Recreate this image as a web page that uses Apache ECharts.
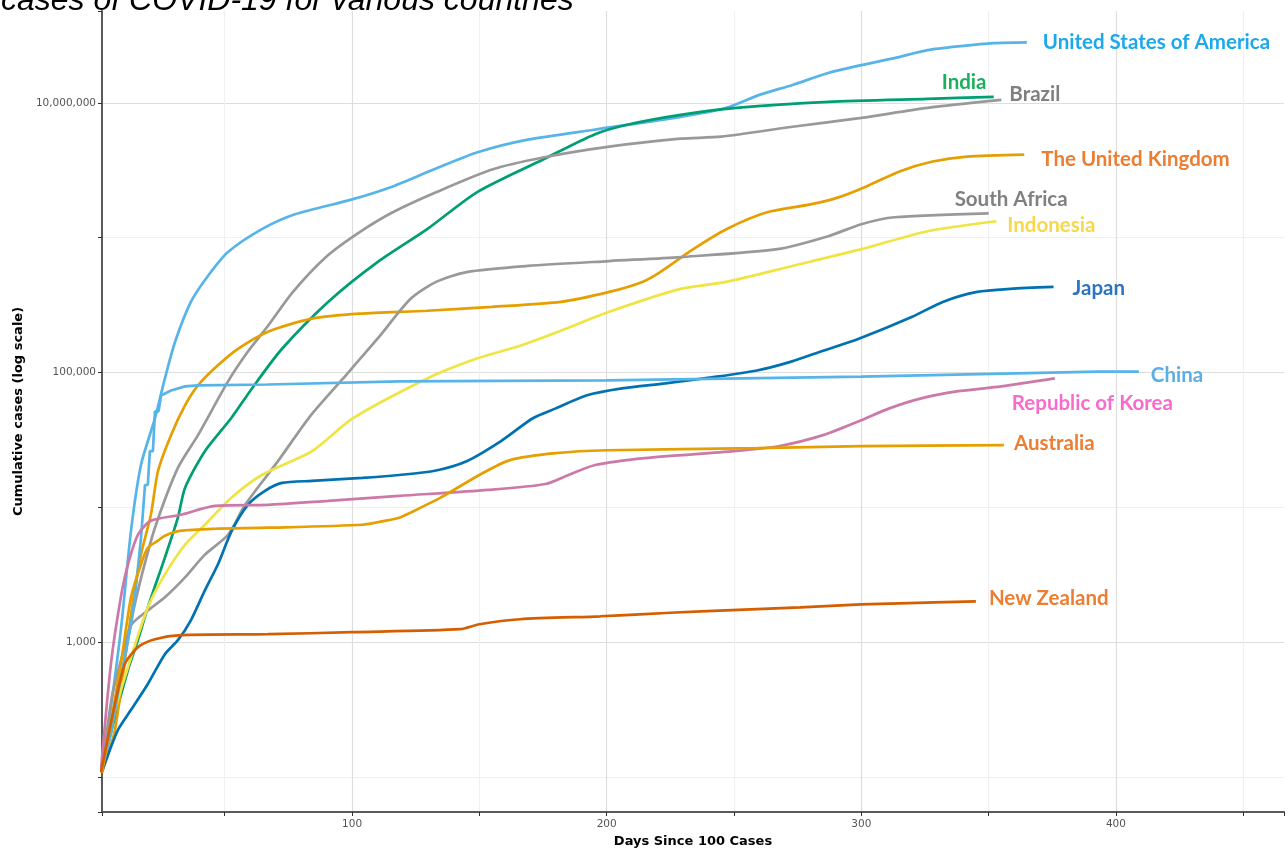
<!DOCTYPE html>
<html>
<head>
<meta charset="utf-8">
<script src="https://cdn.jsdelivr.net/npm/echarts@6/dist/echarts.min.js"></script>
<style>
html,body{margin:0;padding:0;background:#fff;}
#chart{width:1288px;height:853px;}
</style>
</head>
<body>
<div id="chart"></div>
<script>
// ---- Data: [days since 100 cases, cumulative cases] ----
const countries = ['United States of America','India','Brazil','The United Kingdom','South Africa','Indonesia','Japan','China','Republic of Korea','Australia','New Zealand'];

const usa = [[1.8,119],[4.1,224],[9.2,1228],[13.2,6710],[17.1,20600],[22.6,45800],[26.5,90400],[30.5,169000],[36.7,334000],[43.4,520000],[51.3,782000],[64.6,1156000],[77.6,1490000],[100,1923000],[116,2400000],[132,3200000],[149,4280000],[169,5330000],[195,6320000],[229,7880000],[247,9180000],[260,11460000],[273,13580000],[287,16640000],[300,19050000],[313,21480000],[326,24600000],[339,26360000],[352,27740000],[365,28100000]];
const india = [[1.8,110],[4.9,199],[12,621],[15.9,1035],[19.8,1812],[26.5,4240],[31.6,8380],[34.4,13930],[42.2,26100],[52.5,45800],[60.7,76200],[72.5,150000],[90.6,334000],[110,659000],[129.5,1156000],[149,2170000],[175,3800000],[195,5810000],[208,6880000],[229,8150000],[251,9180000],[287,10170000],[326,10710000],[352,11070000]];
const brazil = [[2.2,116],[8.8,466],[13.6,1530],[17.5,3180],[22.6,7060],[31.6,19600],[39.5,34300],[51.3,85900],[59.1,143000],[67,222000],[76.8,396000],[90.2,730000],[103,1099000],[116,1542000],[133,2170000],[155,3200000],[175,3930000],[201,4730000],[229,5420000],[245,5610000],[273,6650000],[300,7740000],[326,9180000],[355,10520000]];
const uk = [[1.8,108],[6.9,224],[13.2,1610],[17.1,4460],[21,8810],[23.8,18600],[28.9,34300],[34.4,57000],[39.5,80200],[47.3,113000],[55.2,150000],[67,201000],[84.3,251000],[103,273000],[129.5,287000],[155,307000],[182,334000],[201,396000],[214,470000],[221,556000],[234,822000],[247,1156000],[263,1542000],[280,1766000],[291,1991000],[302,2400000],[315,3100000],[328,3670000],[341.5,3990000],[364,4130000]];
const southAfrica = [[1.8,112],[5.7,393],[9.6,775],[13.2,1335],[19.8,1720],[26.5,2150],[34.4,3020],[42.2,4460],[51.3,6260],[58,10430],[70.9,22000],[83.5,47300],[96.5,90400],[110,178000],[123,352000],[133,470000],[145,556000],[169,617000],[201,671000],[229,718000],[267,822000],[287,1026000],[300,1259000],[313,1417000],[350,1517000]];
const indonesia = [[1.8,108],[5.7,257],[10.8,552],[19.8,1812],[26.5,3180],[34.4,5280],[42.2,7420],[52.5,11750],[64.6,17380],[84.3,26100],[100.4,45800],[129.5,90400],[149,127000],[166,158000],[182,204000],[201,282000],[229,417000],[247,470000],[273,617000],[300,822000],[326,1117000],[353,1324000]];
const japan = [[1.8,110],[2.9,126],[8.1,224],[13.2,315],[19.8,490],[26.5,815],[31.6,1035],[36.7,1453],[42.2,2420],[47.3,3770],[52.8,6710],[59.1,10430],[65.8,13240],[72.5,15170],[84.3,15700],[104,16520],[118.5,17380],[132,18600],[145,22000],[158.5,31000],[171,45800],[180,54200],[192,67600],[206,76200],[223,83000],[241,91900],[259,103500],[272.5,120500],[285,145000],[299,178000],[320,259000],[332,334000],[345.5,396000],[358.5,417000],[375.5,431000]];
const china = [[1.8,116],[5.3,209],[9.2,552],[13.2,1358],[14.7,2150],[17.1,5890],[18.7,14650],[19.8,14650],[20.6,26100],[21.8,26100],[22.6,51500],[24,51500],[25,67600],[28.9,73600],[34.4,78900],[39.5,80200],[67,81500],[118.5,85900],[200,87400],[300,93300],[393,101600],[409,101600]];
const korea = [[1.4,114],[5.3,689],[9.2,2150],[12,3770],[15.9,6260],[21,7940],[32.8,8810],[46.2,10260],[67,10430],[90.6,11170],[118.5,12160],[153.5,13460],[176,14900],[185,17380],[195.5,20600],[215,23200],[250,26100],[267.5,28400],[285,34300],[299,43500],[311,54200],[323.5,64300],[337.5,72400],[355,78900],[376,90400]];
const australia = [[1.8,108],[5.7,279],[9.6,775],[13.2,2150],[17.1,3770],[19.8,5020],[23.8,5660],[26.5,6160],[32.8,6710],[46.2,6940],[67,7060],[104,7430],[113,7940],[118.5,8360],[122.8,9100],[134.6,11750],[150,17380],[162,22400],[180,25200],[200,26500],[259,27500],[300,28400],[356,28900]];
const newZealand = [[1.4,108],[6.9,349],[10.8,689],[15.9,919],[22.6,1052],[32.8,1127],[67,1146],[100,1186],[142.4,1248],[150,1358],[166,1479],[197.5,1556],[213,1610],[237,1694],[276,1812],[300,1905],[315,1940],[345,2010]];

const seriesData = [usa, india, brazil, uk, southAfrica, indonesia, japan, china, korea, australia, newZealand];

// ---- Styles ----
const lineColors = ['#56B4E9','#009E73','#999999','#E69F00','#999999','#F0E442','#0072B2','#56B4E9','#CC79A7','#E69F00','#D55E00'];
const labelColors = ['#1DA8EA','#1DAF5E','#808080','#ED7D31','#808080','#F8D84A','#2B74C0','#5BAEE6','#F76BCF','#ED7D31','#ED7D31'];
const labelOffsets = [[16,0],[-52,-15],[8,-5],[17,5],[-34,-14],[11,4],[19,1],[12,4],[-43,25],[10,-2],[13,-3]];
const smoothFlags = [0.25,0.25,0.25,0.25,0.25,0.25,0.25,false,0.25,0.25,0.25];

const chart = echarts.init(document.getElementById('chart'));

const series = countries.map((name, i) => ({
  name: name,
  type: 'line',
  data: seriesData[i],
  showSymbol: false,
  symbol: 'none',
  smooth: smoothFlags[i],
  lineStyle: { color: lineColors[i], width: 2.7 },
  itemStyle: { color: lineColors[i] },
  endLabel: {
    show: true,
    formatter: '{a}',
    color: labelColors[i],
    fontFamily: 'Lato',
    fontWeight: 'bold',
    fontSize: 20.5,
    distance: 0,
    offset: labelOffsets[i]
  },
  emphasis: { disabled: true },
  z: 3
}));

const tickFont = { fontFamily: 'DejaVu Sans', fontSize: 10.5, color: '#555555' };

chart.setOption({
  animation: false,
  backgroundColor: '#ffffff',
  title: {
    text: 'cases of COVID-19 for various countries',
    left: 1,
    top: -15,
    padding: 0,
    textStyle: { fontFamily: 'Liberation Sans', fontSize: 32, fontStyle: 'italic', fontWeight: 'normal', color: '#000000' }
  },
  grid: { left: 102, right: 4, top: 11, bottom: 37, containLabel: false },
  xAxis: {
    type: 'value',
    min: 1.8,
    max: 466,
    splitNumber: 10,
    name: 'Days Since 100 Cases',
    nameLocation: 'middle',
    nameGap: 23,
    nameTextStyle: { fontFamily: 'DejaVu Sans', fontWeight: 'bold', fontSize: 13, color: '#000000' },
    axisLine: { show: true, onZero: false, lineStyle: { color: '#5a5a5a', width: 2 } },
    axisTick: { show: true, length: 4, lineStyle: { color: '#333333' } },
    axisLabel: Object.assign({ margin: 7, formatter: v => (v > 0 && v % 100 === 0) ? String(v) : '' }, tickFont),
    splitLine: { show: true, showMinLine: false, showMaxLine: false, lineStyle: { color: ['#f0f0f0', '#dedede'], width: 1.2 } }
  },
  yAxis: {
    type: 'log',
    logBase: 10,
    min: 55,
    max: 48000000,
    splitNumber: 5,
    name: 'Cumulative cases (log scale)',
    nameLocation: 'middle',
    nameGap: 77,
    nameRotate: 90,
    nameTextStyle: { fontFamily: 'DejaVu Sans', fontWeight: 'bold', fontSize: 13, color: '#000000' },
    axisLine: { show: true, lineStyle: { color: '#5a5a5a', width: 2 } },
    axisTick: { show: true, length: 4, lineStyle: { color: '#333333' } },
    axisLabel: Object.assign({
      margin: 6,
      formatter: v => {
        const e = Math.log10(v);
        const r = Math.round(e);
        if (Math.abs(e - r) < 1e-6 && r % 2 === 1) return Math.round(v).toLocaleString('en-US');
        return '';
      }
    }, tickFont),
    splitLine: { show: true, showMinLine: false, showMaxLine: false, lineStyle: { color: ['#f0f0f0', '#dedede'], width: 1.2 } }
  },
  series: series
});
</script>
</body>
</html>
